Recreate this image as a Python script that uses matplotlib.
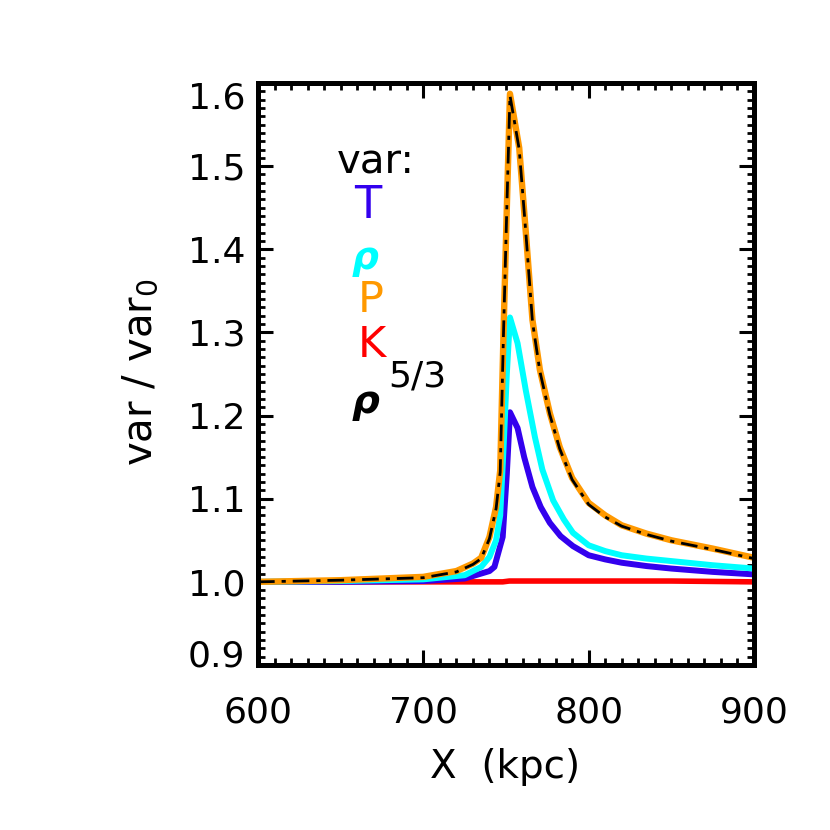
import numpy as np
import matplotlib
matplotlib.use("Agg")
import matplotlib.pyplot as plt
from matplotlib.ticker import MultipleLocator
from matplotlib.transforms import ScaledTranslation

# Profiles (X in kpc, var/var0)
x_p = [600, 650, 700, 720, 730, 735, 740, 744, 746.5, 748.5, 750.5, 752.4, 758, 762, 766, 770.5, 776.5, 782.5, 790, 795, 800, 810, 820, 835, 850, 875, 900]
y_p = [1.000, 1.002, 1.006, 1.013, 1.022, 1.029, 1.054, 1.09, 1.134, 1.30, 1.45, 1.587, 1.522, 1.42, 1.315, 1.255, 1.203, 1.162, 1.125, 1.11, 1.095, 1.080, 1.068, 1.058, 1.050, 1.040, 1.029]

x_rho = [600, 650, 700, 725, 735, 740, 744, 746.5, 748.5, 750.5, 752.4, 757, 762, 767.5, 772, 778.5, 785, 790.5, 800, 810, 820, 835, 850, 875, 900]
y_rho = [1.000, 1.001, 1.003, 1.008, 1.018, 1.030, 1.05, 1.08, 1.16, 1.25, 1.318, 1.287, 1.23, 1.174, 1.135, 1.098, 1.075, 1.059, 1.044, 1.037, 1.032, 1.028, 1.025, 1.020, 1.016]

x_T = [600, 650, 700, 725, 735, 740, 743, 748, 750.5, 752.4, 757, 761, 766, 771, 776.5, 783, 790.5, 800, 810, 820, 835, 850, 875, 900]
y_T = [1.000, 1.000, 1.001, 1.004, 1.010, 1.013, 1.018, 1.054, 1.13, 1.204, 1.185, 1.15, 1.114, 1.09, 1.071, 1.055, 1.043, 1.032, 1.027, 1.023, 1.019, 1.016, 1.012, 1.009]

x_K = [600, 700, 748, 752, 800, 850, 900]
y_K = [1.000, 1.000, 1.000, 1.001, 1.001, 1.001, 1.000]

# rho^(5/3) follows P closely
x_r53 = x_p
y_r53 = [1.000, 1.002, 1.005, 1.012, 1.021, 1.028, 1.052, 1.088, 1.132, 1.30, 1.45, 1.585, 1.52, 1.42, 1.313, 1.253, 1.201, 1.160, 1.123, 1.108, 1.093, 1.078, 1.067, 1.057, 1.049, 1.039, 1.028]

x_ticks = [600, 700, 800, 900]
y_ticks = [0.9, 1.0, 1.1, 1.2, 1.3, 1.4, 1.5, 1.6]

c_T = "#3300ee"
c_rho = "#00ffff"
c_P = "#ff9900"
c_K = "#ff0000"

fig = plt.figure(figsize = (8.3, 8.3), dpi = 100)
ax = fig.add_axes([258/830, 1-665/830, (754-258)/830, (665-83)/830])

ax.plot(x_K, y_K, color = c_K, lw = 4.0, solid_joinstyle = "round")
ax.plot(x_T, y_T, color = c_T, lw = 4.3, solid_joinstyle = "round")
ax.plot(x_rho, y_rho, color = c_rho, lw = 4.3, solid_joinstyle = "round")
ax.plot(x_p, y_p, color = c_P, lw = 4.6, solid_joinstyle = "round")
ax.plot(x_r53, y_r53, color = "black", lw = 2.0, dashes = (6, 2.5, 1.5, 2.5))

ax.set_xlim(600, 900)
ax.set_ylim(0.9, 1.6)
ax.set_xticks(x_ticks)
ax.set_yticks(y_ticks)
ax.set_yticklabels(["%.1f" % v for v in y_ticks])
ax.xaxis.set_minor_locator(MultipleLocator(10))
ax.yaxis.set_minor_locator(MultipleLocator(0.01))
ax.tick_params(which = "both", direction = "in", top = True, right = True, width = 2.2, color = "black")
ax.tick_params(which = "major", length = 11, labelsize = 26)
ax.tick_params(axis = "x", which = "major", pad = 22)
ax.tick_params(axis = "y", which = "major", pad = 9)
ax.tick_params(which = "minor", length = 5, width = 2.0)
for sp in ax.spines.values():
	sp.set_linewidth(3.6)

# nudge the end labels inward like the original
ylabs = ax.get_yticklabels()
ylabs[0].set_transform(ylabs[0].get_transform() + ScaledTranslation(0, 12/100, fig.dpi_scale_trans))
ylabs[-1].set_transform(ylabs[-1].get_transform() + ScaledTranslation(0, -12/100, fig.dpi_scale_trans))

fig.text(140/830, 1-372/830, "var / var$_0$", rotation = 90, ha = "center", va = "center", fontsize = 29)
fig.text(505/830, 1-767/830, "X  (kpc)", ha = "center", va = "center", fontsize = 28)

# legend-like labels
fig.text(376/830, 1-163/830, "var:", ha = "center", va = "center", fontsize = 29, color = "black")
fig.text(368/830, 1-205/830, "T", ha = "center", va = "center", fontsize = 32, color = c_T)
fig.text(365/830, 1-259/830, "ρ", ha = "center", va = "center", fontsize = 27, color = c_rho, fontweight = "bold", fontstyle = "italic")
fig.text(371/830, 1-300/830, "P", ha = "center", va = "center", fontsize = 31, color = c_P)
fig.text(372/830, 1-345/830, "K", ha = "center", va = "center", fontsize = 31, color = c_K)
fig.text(366/830, 1-402/830, "ρ", ha = "center", va = "center", fontsize = 28, color = "black", fontweight = "bold", fontstyle = "italic")
fig.text(417/830, 1-377/830, "5/3", ha = "center", va = "center", fontsize = 26, color = "black")

fig.savefig("out.png", dpi = 100)
